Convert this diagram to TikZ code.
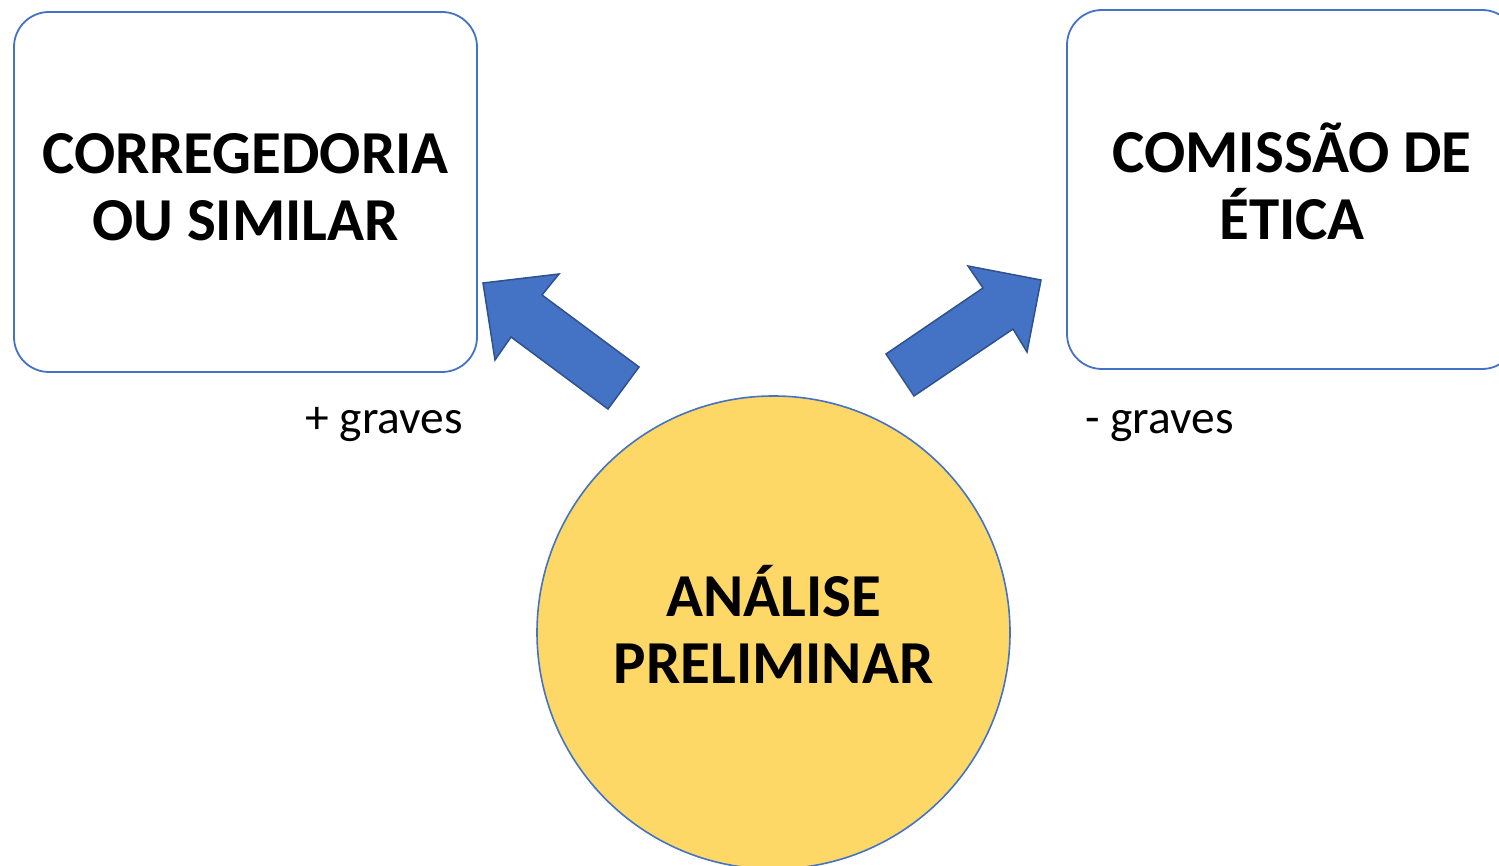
\documentclass[tikz,border=0pt]{standalone}
\usepackage{fontspec}
\setmainfont{Carlito}
\definecolor{boxblue}{HTML}{4472C4}
\definecolor{arrowedge}{HTML}{2F528F}
\definecolor{sunyellow}{HTML}{FDD866}
\tikzset{
  bigtext/.style={font=\bfseries\fontsize{61}{67}\selectfont, align=center, text=black, inner sep=0pt},
  orgbox/.style={draw=boxblue, line width=1.8pt, fill=white, rounded corners=35pt},
  hub/.style={circle, draw=boxblue, line width=1.6pt, fill=sunyellow, inner sep=0pt},
  blockarrow/.style={fill=boxblue, draw=arrowedge, line width=1.5pt, line join=miter},
  sidelabel/.style={font=\fontsize{47.5}{56}\selectfont, anchor=base, text=black}
}
\begin{document}
\begin{tikzpicture}[x=1pt, y=-1pt]
\useasboundingbox (0,0) rectangle (1499,866);
\clip (0,0) rectangle (1499,866);
\node[orgbox, minimum width=463pt, minimum height=360pt] (corr) at (245.5,192) {};
\node[bigtext] (corrtext) at ([yshift=5pt]corr.center) {CORREGEDORIA\\OU SIMILAR};
\node[orgbox, minimum width=450pt, minimum height=359pt] (etica) at (1292,189.5) {};
\node[bigtext] (eticatext) at ([yshift=8pt]etica.center) {COMISSÃO DE\\ÉTICA};
\node[hub, minimum size=473pt] (analise) at (773.5,632.5) {};
\node[bigtext] (analisetext) at ([yshift=8pt]analise.center) {ANÁLISE\\PRELIMINAR};
\node[sidelabel] (mais) at (384,433) {+ graves};
\node[sidelabel] (menos) at (1159.5,433) {- graves};
% left block arrow (from circle towards corregedoria)
\coordinate (la1) at (483,283);
\coordinate (la2) at (559,274);
\coordinate (la3) at (542,295);
\coordinate (la4) at (639,367);
\coordinate (la5) at (608,409);
\coordinate (la6) at (511,337);
\coordinate (la7) at (495,360);
\draw[blockarrow] (la1) -- (la2) -- (la3) -- (la4) -- (la5) -- (la6) -- (la7) -- cycle;
% right block arrow (from circle towards comissao)
\coordinate (ra1) at (1041,280);
\coordinate (ra2) at (968,266);
\coordinate (ra3) at (983,288);
\coordinate (ra4) at (886,354);
\coordinate (ra5) at (914,396);
\coordinate (ra6) at (1013,329);
\coordinate (ra7) at (1027,352);
\draw[blockarrow] (ra1) -- (ra2) -- (ra3) -- (ra4) -- (ra5) -- (ra6) -- (ra7) -- cycle;
\end{tikzpicture}
\end{document}
